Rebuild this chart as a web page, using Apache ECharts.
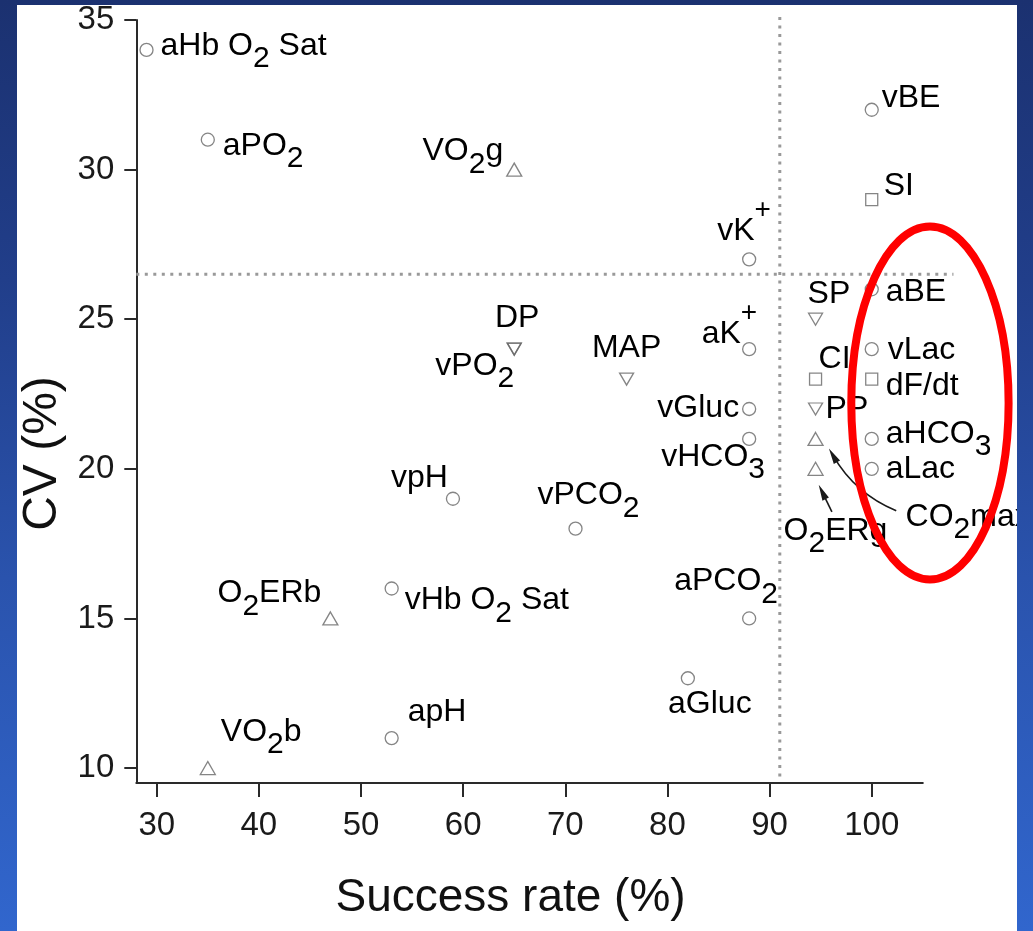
<!DOCTYPE html>
<html>
<head>
<meta charset="utf-8">
<script src="https://cdn.jsdelivr.net/npm/echarts@6/dist/echarts.min.js"></script>
<style>
html,body{margin:0;padding:0;width:1033px;height:931px;overflow:hidden;}
body{background:linear-gradient(to bottom,#1b3170 0%,#213e8a 30%,#2a53ad 62%,#3166cd 100%);}
#frame{position:absolute;left:17px;top:5px;width:1000px;height:926px;background:#fff;}
#c{width:1000px;height:926px;}
</style>
</head>
<body>
<div id="frame"><div id="c"></div></div>
<script>
// ---- data ----
const xTicks = [30, 40, 50, 60, 70, 80, 90, 100];
const yTicks = [10, 15, 20, 25, 30, 35];

const circleNames = ['aHb O2 Sat','aPO2','vBE','vK+','aBE','aK+','vGluc','vHCO3','vLac','aHCO3','aLac','vpH','vPCO2','vHb O2 Sat','aPCO2','aGluc','apH'];
const circleX     = [29, 35, 100, 88, 100, 88, 88, 88, 100, 100, 100, 59, 71, 53, 88, 82, 53];
const circleY     = [34, 31, 32, 27, 26, 24, 22, 21, 24, 21, 20, 19, 18, 16, 15, 13, 11];

const triUpNames = ['VO2g','CO2max','O2ERg','O2ERb','VO2b'];
const triUpX     = [65, 94.5, 94.5, 47, 35];
const triUpY     = [30, 21, 20, 15, 10];

const triDownNames = ['DP','vPO2','SP','MAP','PP'];
const triDownX     = [65, 65, 94.5, 76, 94.5];
const triDownY     = [24, 24, 25, 23, 22];

const squareNames = ['SI','CI','dF/dt'];
const squareX     = [100, 94.5, 100];
const squareY     = [29, 23, 23];

// reference lines (threshold values) as segments [x1, y1, x2, y2]
const xThreshold = 91;
const yThreshold = 26.5;
const thresholdLines = [[28, yThreshold, 108, yThreshold], [xThreshold, 35.1, xThreshold, 9.7]];

// ---- label layout (offset from marker centre in px, anchor side) ----
const labelLayout = {
  'aHb O2 Sat':[14,-4,'left'], 'aPO2':[15,6,'left'], 'vBE':[10,-12,'left'], 'vK+':[-32,-28,'left'],
  'aBE':[14,3,'left'], 'aK+':[8,-15,'right'], 'vGluc':[-10,-1,'right'], 'vHCO3':[-88,18,'left'],
  'vLac':[16,1,'left'], 'aHCO3':[14,-5,'left'], 'aLac':[14,0,'left'], 'vpH':[-5,-21,'right'],
  'vPCO2':[-38,-33,'left'], 'vHb O2 Sat':[13,12,'left'], 'aPCO2':[-75,-37,'left'], 'aGluc':[22,26,'center'],
  'apH':[16,-26,'left'], 'VO2g':[-11,-18,'right'], 'CO2max':[90,78,'left'], 'O2ERg':[-32,62,'left'],
  'O2ERb':[-9,-25,'right'], 'VO2b':[13,-36,'left'], 'DP':[3,-31,'center'], 'vPO2':[0,17,'right'],
  'SP':[-8,-25,'left'], 'MAP':[0,-31,'center'], 'PP':[10,0,'left'], 'SI':[12,-13,'left'],
  'CI':[3,-20,'left'], 'dF/dt':[14,7,'left']
};

// annotation arrows (data coordinates: tail -> head)
const arrowCO2 = [[102.4, 18.6], [96.2, 20.45]];
const arrowO2 = [[96.1, 18.56], [95.15, 19.23]];
// highlight ellipse (centre x, centre y, radius x, radius y in data units)
const ellipseData = [[105.7, 22.2, 7.7, 5.9]];

const FONT = 'Liberation Sans, Arial, Helvetica, sans-serif';
const INK = '#000';
function fmtName(s){
  return s.replace(/O([23])/g, 'O{sub|$1}').replace(/\+/g, '{sup|+}');
}
function build(names, xs, ys){
  return names.map((n,i)=>{
    const L = labelLayout[n] || [10,0,'left'];
    return {name:n, value:[xs[i], ys[i]], label:{offset:[L[0],L[1]], align:L[2]}};
  });
}
const labelBase = {
  show:true, position:'inside', verticalAlign:'middle', color:INK,
  textBorderWidth:0, textBorderColor:'transparent', opacity:1,
  fontFamily:FONT, fontSize:32,
  formatter:(p)=>fmtName(p.name),
  rich:{
    sub:{fontFamily:FONT, fontSize:30, color:INK, textBorderWidth:0, padding:[26,0,0,0]},
    sup:{fontFamily:FONT, fontSize:28, color:INK, textBorderWidth:0, padding:[0,0,42,0]}
  }
};
const markerStyle = {color:'rgba(255,255,255,0)', borderColor:'#666', borderWidth:1.3};
const downTri = 'path://M0,0 L10,0 L5,8.7 Z';
const arrowHead = 'path://M8,0 L11.6,16 L4.4,16 Z M0,8 L0.01,8 Z M16,8 L15.99,8 Z';

const chart = echarts.init(document.getElementById('c'));
chart.setOption({
  animation:false,
  backgroundColor:'#fff',
  grid:{left:119.3, right:94.2, top:15, bottom:148, containLabel:false, outerBoundsMode:'none'},
  xAxis:{
    type:'value', min:28, max:105,
    name:'Success rate (%)', nameLocation:'middle', nameGap:92,
    nameTextStyle:{fontFamily:FONT, fontSize:46, color:'#111', padding:[0,38,0,0]},
    axisLine:{onZero:false, lineStyle:{color:'#2a2a2a', width:2}},
    axisTick:{length:14, lineStyle:{color:'#2a2a2a', width:2}, customValues:xTicks},
    axisLabel:{fontFamily:FONT, fontSize:33, color:'#1a1a1a', margin:26, customValues:xTicks},
    splitLine:{show:false}
  },
  yAxis:{
    type:'value', min:9.5, max:35,
    name:'CV (%)', nameLocation:'middle', nameGap:70, nameRotate:90,
    nameTextStyle:{fontFamily:FONT, fontSize:48, color:'#111', padding:[0,104,0,0]},
    axisLine:{onZero:false, lineStyle:{color:'#2a2a2a', width:2}},
    axisTick:{length:12, lineStyle:{color:'#2a2a2a', width:2}, customValues:yTicks},
    axisLabel:{fontFamily:FONT, fontSize:33, color:'#1a1a1a', margin:22, customValues:yTicks},
    splitLine:{show:false}
  },
  series:[
    {type:'custom', silent:true, z:1, clip:false,
     renderItem:(params, api)=>{
       const a = api.coord([api.value(0), api.value(1)]);
       const b = api.coord([api.value(2), api.value(3)]);
       return {type:'line', shape:{x1:a[0], y1:a[1], x2:b[0], y2:b[1]},
               style:{stroke:'#999', lineWidth:3, lineDash:[3,5.5], fill:null}};
     },
     data:thresholdLines},
    {type:'scatter', name:'circle', symbol:'circle', symbolSize:13, itemStyle:markerStyle,
     label:labelBase, data:build(circleNames, circleX, circleY), z:3},
    {type:'scatter', name:'triangle', symbol:'triangle', symbolSize:[15,13], itemStyle:markerStyle,
     label:labelBase, data:build(triUpNames, triUpX, triUpY), z:3},
    {type:'scatter', name:'invTriangle', symbol:downTri, symbolSize:[14,12], itemStyle:markerStyle,
     label:labelBase, data:build(triDownNames, triDownX, triDownY), z:3},
    {type:'scatter', name:'square', symbol:'rect', symbolSize:12, itemStyle:markerStyle,
     label:labelBase, data:build(squareNames, squareX, squareY), z:3},
    {type:'lines', coordinateSystem:'cartesian2d', silent:true, z:4,
     symbol:['none', arrowHead], symbolSize:16,
     lineStyle:{color:'#1a1a1a', width:1.6, opacity:1},
     itemStyle:{color:'#1a1a1a'},
     data:[
       {coords:arrowCO2, lineStyle:{curveness:0.17}},
       {coords:arrowO2, lineStyle:{curveness:0}}
     ]},
    {type:'custom', silent:true, z:5, clip:false,
     renderItem:(params, api)=>{
       const c = api.coord([api.value(0), api.value(1)]);
       const s = api.size([api.value(2), api.value(3)]);
       return {type:'ellipse', shape:{cx:c[0], cy:c[1], rx:s[0], ry:s[1]},
               style:{fill:'none', stroke:'#ff0000', lineWidth:8}};
     },
     data:ellipseData}
  ]
});
</script>
</body>
</html>
